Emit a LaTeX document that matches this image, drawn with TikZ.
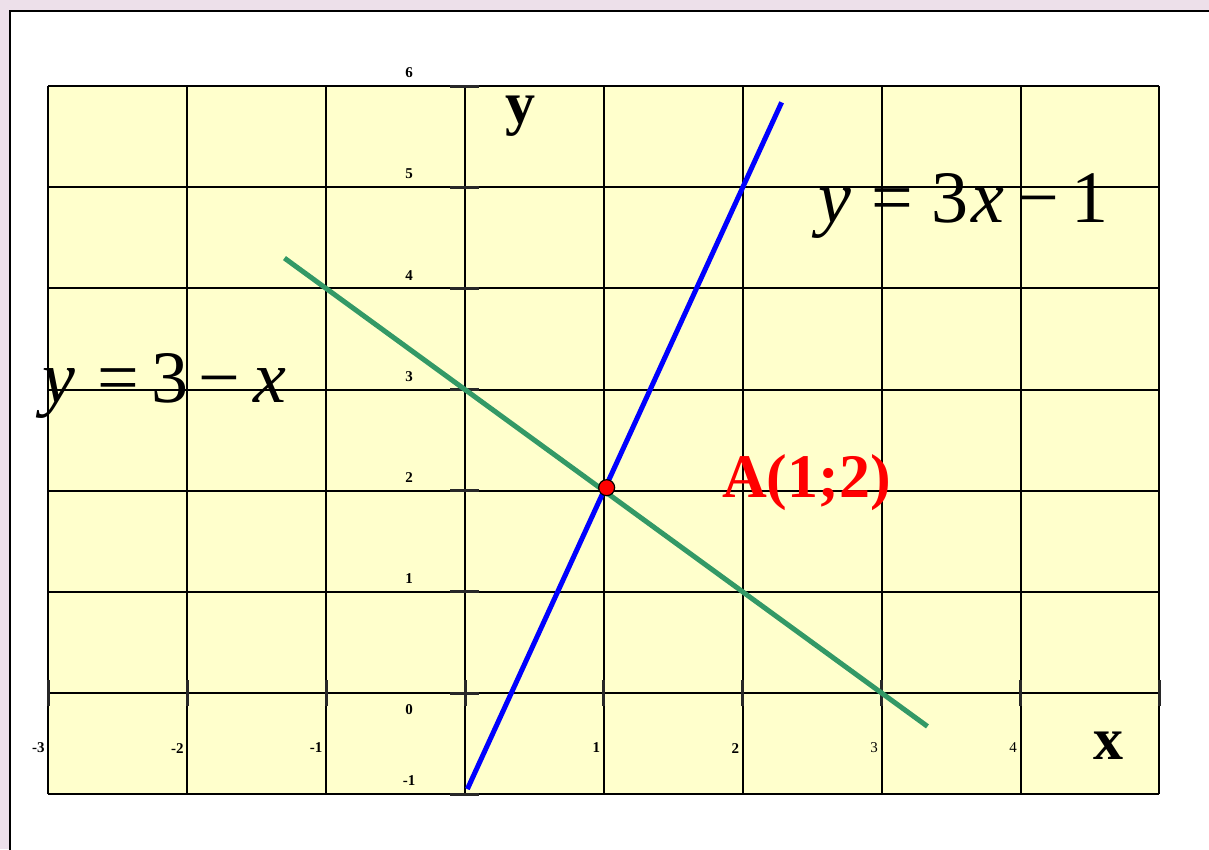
\documentclass[tikz,border=0pt]{standalone}
\usepackage{fontspec}
\setmainfont{Liberation Serif}
\definecolor{bgpink}{RGB}{237,224,234}
\definecolor{gridyellow}{RGB}{255,255,204}
\definecolor{lgreen}{RGB}{51,153,102}
\definecolor{tickgray}{RGB}{40,40,40}
\tikzset{
  gridline/.style={black, line width=2pt},
  tickmark/.style={tickgray, line width=3pt},
  graphline/.style={line width=5pt},
  ticklab/.style={font=\fontsize{15}{15}\selectfont\bfseries, inner sep=0pt},
  ticklabr/.style={font=\fontsize{15}{15}\selectfont, inner sep=0pt},
  eqlab/.style={font=\fontsize{74}{80}\selectfont, inner sep=0pt, anchor=base west},
  axlab/.style={font=\fontsize{60}{64}\selectfont\bfseries, inner sep=0pt, anchor=base west},
}
\begin{document}
\begin{tikzpicture}[x=1pt,y=-1pt]
\useasboundingbox (0,0) rectangle (1209,849);
\fill[bgpink] (0,0) rectangle (1209,849);
\fill[white] (10,11) rectangle (1215,855);
\draw[line width=2.5pt] (10,855) -- (10,11) -- (1215,11);
\begin{scope}[shift={(465,693)}, x=138.875pt, y=101.14pt]
  \fill[gridyellow] (-3,-1) rectangle (5,6);
  \foreach \i in {-3,...,5} \draw[gridline] (\i,-1) -- (\i,6);
  \foreach \j in {-1,...,6} \draw[gridline] (-3,\j) -- (5,\j);
  \foreach \j in {-1,...,6} \draw[tickmark] (-0.108,\j) -- (0.1,\j);
  \foreach \i in {-3,...,5} \draw[tickmark] (\i,-0.13) -- (\i,0.13);
  % y tick labels
  \foreach \j in {1,...,6} \node[ticklab] (ly\j) at (-0.403,\j+0.13) {\j};
  \node[ticklab] (ly0) at (-0.403,-0.16) {0};
  \node[ticklab] (lym1) at (-0.403,-0.87) {-1};
  % x tick labels
  \node[ticklab, anchor=east] (lxm3) at (-3.025,-0.544) {-3};
  \node[ticklab, anchor=east] (lxm2) at (-2.025,-0.544) {-2};
  \node[ticklab, anchor=east] (lxm1) at (-1.025,-0.544) {-1};
  \node[ticklab, anchor=east] (lx1) at (0.975,-0.544) {1};
  \node[ticklab, anchor=east] (lx2) at (1.975,-0.544) {2};
  \node[ticklabr, anchor=east] (lx3) at (2.975,-0.544) {3};
  \node[ticklabr, anchor=east] (lx4) at (3.975,-0.544) {4};
  % graphs
  \coordinate (b1) at (0.017,-0.95);
  \coordinate (b2) at (2.28,5.84);
  \coordinate (g1) at (-1.30,4.30);
  \coordinate (g2) at (3.33,-0.33);
  \draw[graphline, blue] (b1) -- (b2);
  \draw[graphline, lgreen] (g1) -- (g2);
  \node[circle, fill=red, draw=black, line width=1.2pt, minimum size=16pt, inner sep=0pt] (A) at (1.02,2.03) {};
\end{scope}
\node[eqlab] (eq1) at (818,222) {\itshape y\upshape\hspace{20pt}=\hspace{19pt}3\hspace{3pt}\itshape x\upshape\hspace{13pt}−\hspace{12pt}1};
\node[eqlab] (eq2) at (42,402) {\itshape y\upshape\hspace{22pt}=\hspace{13pt}3\hspace{10pt}−\hspace{13pt}\itshape x};
\node[font=\fontsize{62}{66}\selectfont\bfseries, text=red, inner sep=0pt, anchor=base west] (Alab) at (722,497) {A(1;2)};
\node[axlab] (ylab) at (505,123) {y};
\node[axlab] (xlab) at (1093,759) {x};
\end{tikzpicture}
\end{document}
